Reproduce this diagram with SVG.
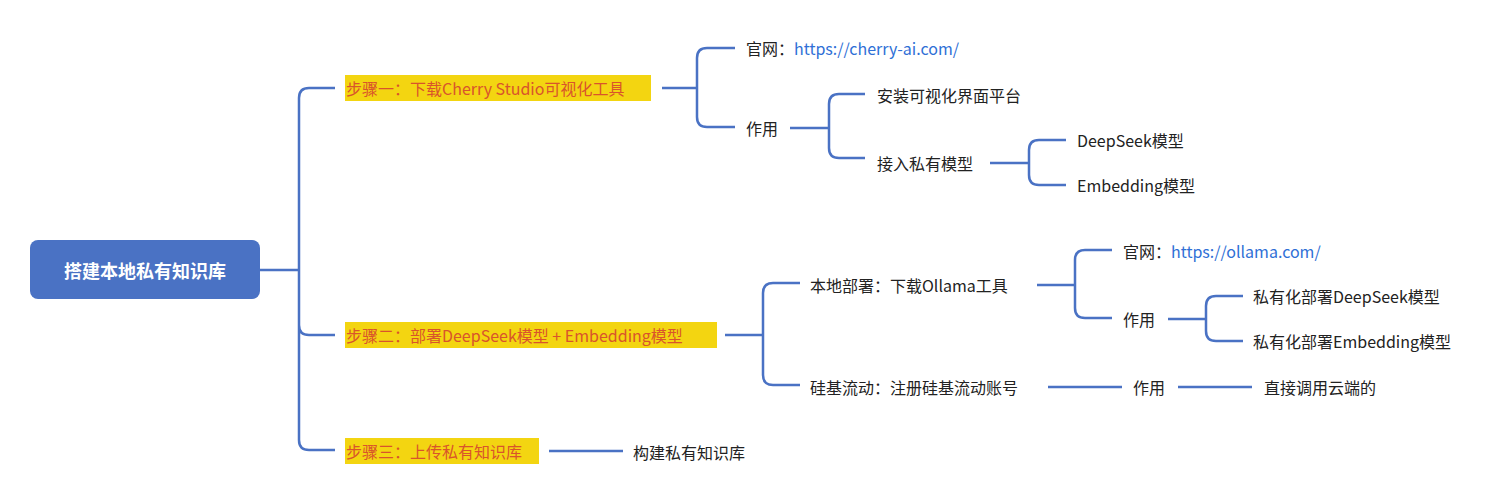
<svg xmlns="http://www.w3.org/2000/svg" width="1511" height="500" viewBox="0 0 1511 500">
<style>
text{font-family:"Noto Sans CJK SC","Noto Sans",sans-serif;font-size:16px;fill:#222;dominant-baseline:central}
.s{fill:#d9542b}
.u{fill:#2f6fd6}
.hl{fill:#f3d511}
#connectors path{fill:none;stroke:#4a72c4;stroke-width:2.5}
</style>
<rect width="1511" height="500" fill="#fff"/>
<g id="connectors">
<path d="M260,270H299M335,88H309Q299,88 299,98V440Q299,450 309,450H335M299,325Q299,335 309,335H335"/>
<path d="M662,88H697M735,48H707Q697,48 697,58V117Q697,127 707,127H735"/>
<path d="M790,128H829M865,94H839Q829,94 829,104V148Q829,158 839,158H865"/>
<path d="M990,163H1029M1066,140H1039Q1029,140 1029,150V175Q1029,185 1039,185H1066"/>
<path d="M725,335H763M800,283H773Q763,283 763,293V375Q763,385 773,385H800"/>
<path d="M1037,285H1075M1112,250H1085Q1075,250 1075,260V308Q1075,318 1085,318H1112"/>
<path d="M1168,319H1206M1243,296H1216Q1206,296 1206,306V331Q1206,341 1216,341H1243"/>
<path d="M1048,387H1122M1178,387H1252M549,451H623"/>
</g>
<g id="root"><rect x="30" y="240" width="230" height="59" rx="8" fill="#4a72c4"/><text x="145" y="270" text-anchor="middle" style="fill:#fff;font-size:18px;font-weight:bold">搭建本地私有知识库</text></g>
<g id="step1"><rect class="hl" x="345" y="75" width="306" height="26"/><text class="s" x="346" y="88">步骤一：下载Cherry Studio可视化工具</text></g>
<g id="site1"><text x="746" y="48">官网：<tspan class="u">https://cherry-ai.com/</tspan></text></g>
<g id="use1"><text x="746" y="128">作用</text></g>
<g id="ui"><text x="877" y="95">安装可视化界面平台</text></g>
<g id="access"><text x="877" y="163">接入私有模型</text></g>
<g id="ds"><text x="1077" y="140">DeepSeek模型</text></g>
<g id="emb"><text x="1077" y="185">Embedding模型</text></g>
<g id="step2"><rect class="hl" x="345" y="322" width="372" height="26"/><text class="s" x="346" y="335">步骤二：部署DeepSeek模型 + Embedding模型</text></g>
<g id="local"><text x="810" y="285">本地部署：下载Ollama工具</text></g>
<g id="silicon"><text x="810" y="387">硅基流动：注册硅基流动账号</text></g>
<g id="site2"><text x="1123" y="251">官网：<tspan class="u">https://ollama.com/</tspan></text></g>
<g id="use2"><text x="1123" y="319">作用</text></g>
<g id="pds"><text x="1253" y="296">私有化部署DeepSeek模型</text></g>
<g id="pemb"><text x="1253" y="341">私有化部署Embedding模型</text></g>
<g id="use3"><text x="1133" y="387">作用</text></g>
<g id="cloud"><text x="1264" y="387">直接调用云端的</text></g>
<g id="step3"><rect class="hl" x="345" y="438" width="194" height="26"/><text class="s" x="346" y="451">步骤三：上传私有知识库</text></g>
<g id="build"><text x="633" y="452">构建私有知识库</text></g>
</svg>
